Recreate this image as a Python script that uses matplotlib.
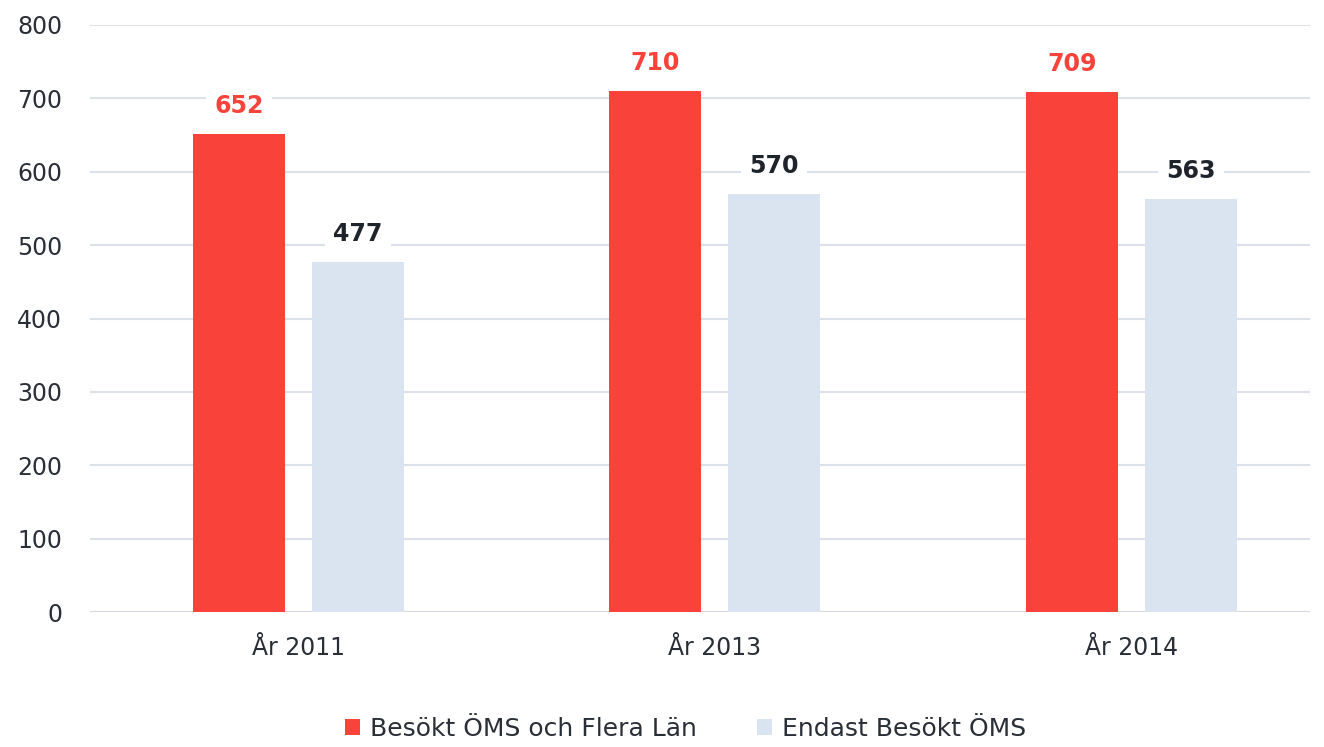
import matplotlib.pyplot as plt
import numpy as np

categories = ["År 2011", "År 2013", "År 2014"]
series_names = ["Besökt ÖMS och Flera Län", "Endast Besökt ÖMS"]
flera_lan = [652, 710, 709]
endast_oms = [477, 570, 563]

red = "#F94239"
blue = "#D9E4F0"
dark = "#1F242C"
grid = "#DDE1E9"

plt.rcParams["font.family"] = ["DejaVu Sans"]

fig = plt.figure(figsize=(13.24, 7.47), dpi=100)
ax = fig.add_axes([90 / 1324, 1 - 612 / 747, 1220 / 1324, 587 / 747])

x = np.arange(len(categories))
w = 0.221
off = 0.1425
b1 = ax.bar(x - off, flera_lan, w, color=red, label=series_names[0], zorder=2)
b2 = ax.bar(x + off, endast_oms, w, color=blue, label=series_names[1], zorder=2)

for bars, vals, col in ((b1, flera_lan, red), (b2, endast_oms, dark)):
    for r, v in zip(bars, vals):
        ax.annotate(str(v), (r.get_x() + r.get_width() / 2, v), xytext=(0, 20),
                    textcoords="offset points", ha="center", va="center",
                    fontsize=17, fontweight="bold", color=col, zorder=3,
                    bbox=dict(boxstyle="square,pad=0.35", fc="white", ec="none"))

ax.set_ylim(0, 800)
ax.set_xlim(-0.5, -0.5 + 1220 / 416.5)
ax.set_yticks(range(0, 801, 100))
ax.set_xticks(x)
ax.set_xticklabels(categories)
ax.yaxis.grid(True, color=grid, lw=1.5, zorder=0)
ax.axhline(0, color="#D3D8E0", lw=2, zorder=1)
ax.set_axisbelow(True)
for s in ax.spines.values():
    s.set_visible(False)
ax.tick_params(axis="both", length=0, colors="#2A2F37")
ax.tick_params(axis="y", pad=20, labelsize=17)
ax.tick_params(axis="x", pad=17, labelsize=17)

leg = fig.legend(loc="lower center", bbox_to_anchor=(0.518, -0.022), ncol=2, frameon=False,
                 fontsize=18, handlelength=0.6, handleheight=0.6, handletextpad=0.4,
                 columnspacing=2.4, labelcolor="#2A2F37")

fig.savefig("out.png", dpi=100)
